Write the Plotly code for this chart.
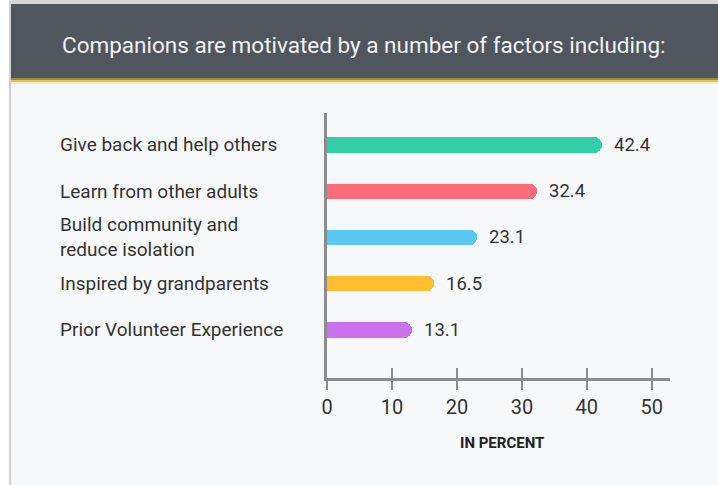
import plotly.graph_objects as go

# ---- data ----
categories = [
    "Give back and help others",
    "Learn from other adults",
    "Build community and<br>reduce isolation",
    "Inspired by grandparents",
    "Prior Volunteer Experience",
]
values = [42.4, 32.4, 23.1, 16.5, 13.1]
value_labels = ["42.4", "32.4", "23.1", "16.5", "13.1"]
bar_colors = ["#2fd0a7", "#fc6c79", "#5ac8f0", "#fdbe2f", "#cb70ef"]
x_ticks = [0, 10, 20, 30, 40, 50]
title_text = "Companions are motivated by a number of factors including:"
x_title = "IN PERCENT"

# ---- layout geometry (pixels) ----
W, H = 718, 485
L, R, T, B = 327, 48, 113, 107
PW, PH = W - L - R, H - T - B

def px(x):
    return (x - L) / PW

def py(y):
    return (H - B - y) / PH

FONT = "Roboto, Arial, sans-serif"
TXT = "#333333"

ypos = list(range(len(categories)))

fig = go.Figure()
fig.add_trace(go.Bar(
    x=values, y=ypos, orientation="h",
    marker=dict(color=bar_colors, cornerradius="50%", line=dict(width=0)),
    width=0.33, hoverinfo="skip", showlegend=False,
))
# dummy trace for overlay axis (inside ticks)
fig.add_trace(go.Scatter(x=[0, 50], y=[0, 0], xaxis="x2", yaxis="y",
                         mode="markers", marker=dict(opacity=0),
                         hoverinfo="skip", showlegend=False))

shapes = []
def rect(x0, y0, x1, y1, color):
    shapes.append(dict(type="rect", xref="paper", yref="paper",
                       x0=px(x0), x1=px(x1), y0=py(y1), y1=py(y0),
                       fillcolor=color, line=dict(width=0), layer="below"))

rect(0, 0, 9, H, "#ffffff")
rect(9, 0, 11, H, "#cfcfcf")
rect(9, 0, W, 4, "#d6d6d6")
rect(11, 4, W, 78, "#50565d")
rect(11, 78, W, 80, "#9c8646")
rect(11, 80, W, 82, "#e2c35e")
rect(11, 82, W, 84, "#f7ecc2")

annotations = [
    dict(text=title_text, xref="paper", yref="paper", x=px(364), y=py(45),
         xanchor="center", yanchor="middle", showarrow=False,
         font=dict(family=FONT, size=22.5, color="#f2f2f2")),
    dict(text="<b>" + x_title + "</b>", xref="paper", yref="paper",
         x=px(502), y=py(443), xanchor="center", yanchor="middle",
         showarrow=False, font=dict(family=FONT, size=15, color="#222222")),
]
for i, c in enumerate(categories):
    annotations.append(dict(text=c, xref="paper", yref="y", x=px(58), y=i,
                            xanchor="left", yanchor="middle", align="left",
                            showarrow=False,
                            font=dict(family=FONT, size=19, color=TXT)))
for i, (v, lab) in enumerate(zip(values, value_labels)):
    annotations.append(dict(text=lab, xref="x", yref="y", x=v, y=i,
                            xanchor="left", yanchor="middle", xshift=10,
                            showarrow=False,
                            font=dict(family=FONT, size=18.5, color=TXT)))

fig.update_layout(
    width=W, height=H,
    margin=dict(l=L, r=R, t=T, b=B, pad=0),
    paper_bgcolor="#f7f8fa", plot_bgcolor="rgba(0,0,0,0)",
    bargap=0,
    xaxis=dict(range=[0, 52.8], tickvals=x_ticks, ticks="outside", ticklen=9,
               tickwidth=1.5, tickcolor="#8c8c8c",
               showline=True, linecolor="#8c8c8c", linewidth=2.5,
               showgrid=False, zeroline=False, fixedrange=True,
               tickfont=dict(family=FONT, size=20, color=TXT),
               ticklabelstandoff=0),
    xaxis2=dict(overlaying="x", matches="x", side="bottom", anchor="y",
                tickvals=x_ticks, ticks="inside", ticklen=10, tickwidth=1.5,
                tickcolor="#8c8c8c", showticklabels=False, showline=False,
                showgrid=False, zeroline=False),
    yaxis=dict(range=[5.04, -0.69], showticklabels=False, ticks="",
               showline=True, linecolor="#8c8c8c", linewidth=2.5,
               showgrid=False, zeroline=False, fixedrange=True),
    shapes=shapes,
    annotations=annotations,
)

fig.write_html("out.html", config={"displayModeBar": False})
